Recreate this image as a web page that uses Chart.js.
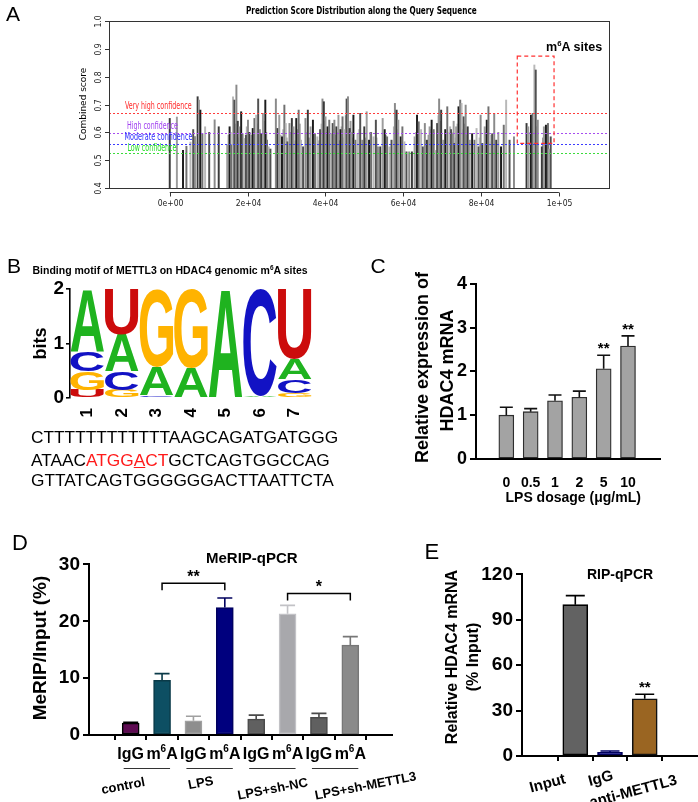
<!DOCTYPE html>
<html>
<head>
<meta charset="utf-8">
<script src="https://cdn.jsdelivr.net/npm/chart.js@4.4.0/dist/chart.umd.min.js"></script>
<style>
  body { margin: 0; background: #fff; }
  #page { position: relative; width: 698px; height: 802px; overflow: hidden; font-family: 'Liberation Sans', Arial, sans-serif; }
  #page canvas { position: absolute; }
  .t { position: absolute; white-space: nowrap; line-height: 1; }
  .t sup { font-size: 62%; line-height: 0; }
</style>
</head>
<body>
<div id="page">
  <canvas id="chartA" width="698" height="215" style="left:0px;top:0px"></canvas>
  <canvas id="chartB" width="330" height="145" style="left:0px;top:275px"></canvas>
  <canvas id="chartC" width="368" height="240" style="left:330px;top:270px"></canvas>
  <canvas id="chartD" width="460" height="252" style="left:0px;top:550px"></canvas>
  <canvas id="chartE" width="238" height="242" style="left:460px;top:560px"></canvas>
</div>
<script>
// ---------- data ----------
// A: predicted m6A sites along HDAC4 (position in nt, combined score)
var sitePositions = [0,1835,3409,4283,5331,6031,6468,7167,7516,7866,8390,9090,10138,11537,12586,14771,15382,15819,16256,16606,17130,17480,17917,18354,18704,19141,19578,20102,20452,20889,21326,21763,22200,22724,23161,23511,23948,24559,24996,25433,25870,27269,27706,28143,28842,29454,29803,30240,30765,31377,31814,32513,33125,33736,34261,34873,35484,36184,36795,37320,37932,38631,39243,39592,40029,40554,40991,41428,41865,42302,42826,43350,43875,44399,44924,45448,45798,46235,46672,47196,47720,48245,48944,49468,49993,50605,51216,51741,52353,52964,53489,54101,54712,55237,55849,56460,56985,57859,58296,58733,59345,59782,60306,60830,61530,62229,62928,63540,63977,64589,65026,65550,66074,66774,67298,67822,68347,68696,69221,69745,70270,70794,71318,71843,72280,72717,73154,73591,74203,74640,74989,75514,76038,76562,77087,77699,78310,78835,79359,79884,80321,80932,81457,81894,82331,82855,83380,83904,84428,85128,85827,86439,87313,88449,91683,92120,92819,93256,93693,94042,94567,95616,96140,96664,97189,97538,97888];
var siteScores = [0.65,0.655,0.535,0.55,0.565,0.61,0.585,0.728,0.716,0.68,0.595,0.62,0.60,0.645,0.62,0.555,0.62,0.555,0.728,0.716,0.77,0.64,0.62,0.674,0.595,0.578,0.59,0.644,0.60,0.59,0.614,0.65,0.662,0.72,0.61,0.595,0.668,0.716,0.572,0.548,0.54,0.72,0.614,0.662,0.584,0.698,0.632,0.566,0.632,0.65,0.62,0.65,0.68,0.572,0.548,0.65,0.68,0.62,0.644,0.595,0.584,0.61,0.72,0.71,0.656,0.62,0.644,0.595,0.632,0.644,0.62,0.662,0.61,0.656,0.61,0.72,0.728,0.614,0.60,0.662,0.572,0.595,0.668,0.572,0.62,0.674,0.572,0.60,0.584,0.644,0.548,0.548,0.65,0.61,0.584,0.548,0.572,0.704,0.68,0.644,0.584,0.62,0.566,0.53,0.53,0.53,0.584,0.662,0.638,0.61,0.548,0.632,0.572,0.62,0.644,0.61,0.535,0.632,0.72,0.68,0.572,0.61,0.692,0.60,0.61,0.595,0.56,0.62,0.692,0.716,0.704,0.656,0.698,0.62,0.572,0.595,0.572,0.614,0.548,0.662,0.56,0.62,0.644,0.692,0.566,0.595,0.668,0.572,0.60,0.548,0.626,0.716,0.572,0.584,0.632,0.62,0.662,0.668,0.842,0.824,0.644,0.548,0.62,0.626,0.632,0.54,0.584];
// lighter, lower-scoring sites drawn behind the main ones
var faintPositions = [15100,16000,16900,17700,18100,19350,19800,20300,21100,21550,22450,22950,23750,24250,24800,28500,29100,30000,31000,32100,32800,33450,35150,35800,38300,39000,39800,40300,41200,42050,42550,43100,43600,44150,44650,45250,45600,46000,46450,46900,48600,50300,51500,53200,55500,57600,58050,58500,63300,63750,66500,67000,69000,69500,72050,72500,72950,73400,73900,74400,74800,75250,75800,76300,79600,81100,82600,92400,93000,93450,94300,95900,96400,96900];
var faintScores = [0.59,0.60,0.63,0.58,0.61,0.57,0.62,0.58,0.57,0.60,0.63,0.59,0.58,0.64,0.60,0.59,0.61,0.58,0.60,0.57,0.61,0.63,0.60,0.58,0.57,0.63,0.64,0.60,0.58,0.61,0.59,0.60,0.57,0.62,0.58,0.66,0.70,0.60,0.64,0.58,0.61,0.58,0.60,0.58,0.59,0.62,0.66,0.61,0.60,0.62,0.59,0.61,0.66,0.64,0.62,0.60,0.64,0.58,0.63,0.68,0.66,0.61,0.63,0.59,0.58,0.60,0.59,0.60,0.63,0.65,0.62,0.58,0.59,0.60];
var scoreTicks = [0.4, 0.5, 0.6, 0.7, 0.8, 0.9, 1.0];
var positionTicks = [0, 20000, 40000, 60000, 80000, 100000];
var positionLabels = ['0e+00', '2e+04', '4e+04', '6e+04', '8e+04', '1e+05'];
var confidenceLevels = [0.670, 0.599, 0.557, 0.527];
var confidenceNames = ['Very high confidence', 'High confidence', 'Moderate confidence', 'Low confidence'];
var m6aWindow = [89300, 98750, 0.56, 0.874];

// B: motif logo, letters bottom -> top with height in bits
var logoPositions = ['1', '2', '3', '4', '5', '6', '7'];
var logoStacks = [
  [['U', 0.15], ['G', 0.34], ['C', 0.36], ['A', 1.15]],
  [['G', 0.15], ['C', 0.34], ['A', 0.68], ['U', 0.83]],
  [['U', 0.02], ['C', 0.03], ['A', 0.52], ['G', 1.42]],
  [['A', 0.55], ['G', 1.45]],
  [['A', 2.0]],
  [['A', 0.03], ['C', 1.95]],
  [['G', 0.09], ['C', 0.25], ['A', 0.37], ['U', 1.29]]
];

// C: LPS dose response
var dosageLabels = ['0', '0.5', '1', '2', '5', '10'];
var dosageValues = [1.0, 1.08, 1.33, 1.41, 2.06, 2.58];
var dosageErrors = [0.18, 0.07, 0.13, 0.14, 0.31, 0.23];
var dosageStars = ['', '', '', '', '**', '**'];

// D: MeRIP-qPCR
var meripLabels = ['IgG', 'm6A', 'IgG', 'm6A', 'IgG', 'm6A', 'IgG', 'm6A'];
var meripGroups = ['control', 'LPS', 'LPS+sh-NC', 'LPS+sh-METTL3'];
var meripValues = [2.1, 9.6, 2.5, 22.4, 2.8, 21.3, 3.1, 15.8];
var meripErrors = [0.15, 1.2, 0.8, 1.7, 0.7, 1.5, 0.7, 1.5];
var meripBrackets = [
  { from: 1, to: 3, value: 26.7, label: '**' },
  { from: 5, to: 7, value: 24.9, label: '*' }
];

// E: RIP-qPCR
var ripLabels = ['Input', 'IgG', 'anti-METTL3'];
var ripValues = [100, 2.5, 37.8];
var ripErrors = [6, 0.8, 3];
var ripStars = ['', '', '**'];

// ---------- helpers ----------
Chart.defaults.font.family = "'Liberation Sans', Arial, sans-serif";
Chart.defaults.color = '#000';
var page = document.getElementById('page');
var NARROW = "'Liberation Sans Narrow', 'DejaVu Sans Condensed', sans-serif";

function addText(html, x, y, font, opts) {
  opts = opts || {};
  var el = document.createElement('div');
  el.className = 't';
  el.style.font = font;
  el.style.color = opts.color || '#000';
  el.innerHTML = html;
  page.appendChild(el);
  var w = el.offsetWidth, h = el.offsetHeight;
  var sx = opts.width ? opts.width / w : 1;
  if (opts.align === 'left') {
    el.style.left = x + 'px';
    el.style.transformOrigin = '0 50%';
  } else {
    el.style.left = (x - w / 2) + 'px';
  }
  el.style.top = (y - h / 2) + 'px';
  el.style.transform = 'rotate(' + (opts.rot || 0) + 'deg) scaleX(' + sx + ')';
}

var errorBars = {
  id: 'errorBars',
  afterDatasetsDraw: function (chart) {
    var ctx = chart.ctx, ys = chart.scales.y;
    chart.data.datasets.forEach(function (ds, d) {
      if (!ds.errors) return;
      chart.getDatasetMeta(d).data.forEach(function (bar, i) {
        var top = ys.getPixelForValue(ds.data[i].y + ds.errors[i]);
        ctx.save();
        ctx.strokeStyle = ds.errorColor[i];
        ctx.lineWidth = 1.6;
        ctx.beginPath();
        ctx.moveTo(bar.x, bar.y);
        ctx.lineTo(bar.x, top);
        ctx.moveTo(bar.x - ds.capWidth / 2, top);
        ctx.lineTo(bar.x + ds.capWidth / 2, top);
        ctx.stroke();
        if (ds.stars && ds.stars[i]) {
          ctx.fillStyle = '#000';
          ctx.font = 'bold 15px ' + Chart.defaults.font.family;
          ctx.textAlign = 'center';
          ctx.textBaseline = 'alphabetic';
          ctx.fillText(ds.stars[i], bar.x, top - 2);
        }
        ctx.restore();
      });
    });
  }
};

function fixedBox(width, height) {
  return function (s) {
    if (width != null) s.width = width;
    if (height != null) s.height = height;
  };
}

function setTicks(values) {
  return function (s) { s.ticks = values.map(function (v) { return { value: v }; }); };
}

function valueAxis(min, max, step, size, width) {
  return {
    min: min, max: max,
    afterFit: fixedBox(width, null),
    ticks: { stepSize: step, font: { size: size, weight: 'bold' }, color: '#000', padding: 3 },
    grid: { display: true, drawOnChartArea: false, drawTicks: true, tickLength: 6, color: '#000', lineWidth: 2 },
    border: { display: true, color: '#000', width: 2 }
  };
}

// ---------- A ----------
var rPlot = {
  id: 'rPlot',
  afterDatasetsDraw: function (chart) {
    var ctx = chart.ctx, a = chart.chartArea, xs = chart.scales.x, ys = chart.scales.y;
    var lineColors = ['#ff3b3b', '#a64cf0', '#3b3bff', '#3bdc3b'];
    ctx.save();
    ctx.lineWidth = 1;
    ctx.setLineDash([2, 2]);
    confidenceLevels.forEach(function (v, i) {
      var py = Math.round(ys.getPixelForValue(v)) + 0.5;
      ctx.strokeStyle = lineColors[i];
      ctx.beginPath(); ctx.moveTo(a.left, py); ctx.lineTo(a.right, py); ctx.stroke();
    });
    ctx.setLineDash([4, 3]);
    ctx.strokeStyle = '#ff3030';
    ctx.lineWidth = 1.2;
    var bx0 = xs.getPixelForValue(m6aWindow[0]), bx1 = xs.getPixelForValue(m6aWindow[1]);
    var by0 = ys.getPixelForValue(m6aWindow[3]), by1 = ys.getPixelForValue(m6aWindow[2]);
    ctx.strokeRect(bx0, by0, bx1 - bx0, by1 - by0);
    ctx.setLineDash([]);

    ctx.strokeStyle = '#333';
    ctx.lineWidth = 1;
    ctx.strokeRect(a.left + 0.5, a.top + 0.5, a.right - a.left - 1, a.bottom - a.top);
    ctx.fillStyle = '#222';
    ctx.font = '8.5px ' + NARROW;
    ctx.textAlign = 'center';
    ctx.textBaseline = 'middle';
    scoreTicks.forEach(function (v) {
      var py = Math.round(ys.getPixelForValue(v)) + 0.5;
      ctx.beginPath(); ctx.moveTo(a.left, py); ctx.lineTo(a.left - 4, py); ctx.stroke();
      ctx.save();
      ctx.translate(a.left - 10, py);
      ctx.rotate(-Math.PI / 2);
      ctx.fillText(v.toFixed(1), 0, 0);
      ctx.restore();
    });
    var ay = a.bottom + 4.5;
    var x0 = xs.getPixelForValue(positionTicks[0]);
    var x1 = xs.getPixelForValue(positionTicks[positionTicks.length - 1]);
    ctx.beginPath(); ctx.moveTo(x0, ay); ctx.lineTo(x1, ay); ctx.stroke();
    positionTicks.forEach(function (v, i) {
      var px = Math.round(xs.getPixelForValue(v)) + 0.5;
      ctx.beginPath(); ctx.moveTo(px, ay); ctx.lineTo(px, ay + 4); ctx.stroke();
      ctx.fillText(positionLabels[i], px, ay + 11);
    });
    ctx.restore();
  }
};

var siteShades = ['#3a3a3a', '#9c9c9c', '#1c1c1c', '#707070', '#b8b8b8', '#505050', '#8a8a8a'];
var faintShades = ['#b0b0b0', '#c8c8c8', '#9a9a9a'];
new Chart(document.getElementById('chartA'), {
  type: 'bar',
  data: {
    datasets: [{
      data: sitePositions.map(function (p, i) { return { x: p, y: siteScores[i] }; }),
      base: 0.4,
      barThickness: 1.3,
      grouped: false,
      order: 1,
      backgroundColor: function (c) { return siteShades[c.dataIndex % siteShades.length]; }
    }, {
      data: faintPositions.map(function (p, i) { return { x: p, y: faintScores[i] }; }),
      base: 0.4,
      barThickness: 1.3,
      grouped: false,
      order: 2,
      backgroundColor: function (c) { return faintShades[c.dataIndex % faintShades.length]; }
    }]
  },
  options: {
    responsive: false, animation: false, events: [],
    layout: { padding: { left: 109, right: 88, top: 21, bottom: 27 } },
    plugins: { legend: { display: false }, tooltip: { enabled: false } },
    scales: {
      x: { type: 'linear', min: -4880, max: 102400, display: false },
      y: { min: 0.4, max: 1.0, display: false }
    }
  },
  plugins: [rPlot]
});

// ---------- B ----------
var logoColors = { A: '#1fb31f', C: '#1212c4', G: '#ffb300', U: '#cc0c0c' };
function drawLetter(ctx, letter, x, y, w, h) {
  ctx.save();
  ctx.font = "bold 100px 'Liberation Sans', Arial, sans-serif";
  var m = ctx.measureText(letter);
  var gw = m.actualBoundingBoxLeft + m.actualBoundingBoxRight;
  var gh = m.actualBoundingBoxAscent + m.actualBoundingBoxDescent;
  ctx.translate(x, y);
  ctx.scale(w / gw, h / gh);
  ctx.fillStyle = logoColors[letter];
  ctx.textAlign = 'left';
  ctx.textBaseline = 'alphabetic';
  ctx.fillText(letter, m.actualBoundingBoxLeft, m.actualBoundingBoxAscent);
  ctx.restore();
}
var logoLetters = {
  id: 'logoLetters',
  afterDatasetsDraw: function (chart) {
    chart.data.datasets.forEach(function (ds, d) {
      chart.getDatasetMeta(d).data.forEach(function (bar, i) {
        var s = logoStacks[i][d];
        if (!s) return;
        var p = bar.getProps(['x', 'y', 'base', 'width'], true);
        var h = p.base - p.y;
        if (h < 0.6) return;
        drawLetter(chart.ctx, s[0], p.x - p.width / 2, p.y, p.width, h);
      });
    });
  }
};
var logoDatasets = [0, 1, 2, 3].map(function (r) {
  return {
    data: logoStacks.map(function (s) { return s[r] ? s[r][1] : 0; }),
    backgroundColor: 'rgba(0,0,0,0)',
    barPercentage: 1, categoryPercentage: 0.97
  };
});
new Chart(document.getElementById('chartB'), {
  type: 'bar',
  data: { labels: logoPositions, datasets: logoDatasets },
  options: {
    responsive: false, animation: false, events: [],
    layout: { padding: { left: 0, right: 18, top: 14, bottom: 0 } },
    plugins: { legend: { display: false }, tooltip: { enabled: false } },
    scales: {
      x: {
        stacked: true, afterFit: fixedBox(null, 22),
        grid: { display: false }, border: { display: false },
        ticks: { minRotation: 90, maxRotation: 90, font: { size: 17, weight: 'bold' }, color: '#000', padding: 2 }
      },
      y: {
        stacked: true, min: 0, max: 2, afterFit: fixedBox(70, null),
        ticks: { stepSize: 1, font: { size: 19, weight: 'bold' }, color: '#000', padding: 2 },
        grid: { display: true, drawOnChartArea: false, tickLength: 4, color: '#000', lineWidth: 1.6 },
        border: { display: true, color: '#000', width: 1.6 }
      }
    }
  },
  plugins: [logoLetters]
});

// ---------- C ----------
new Chart(document.getElementById('chartC'), {
  type: 'bar',
  data: {
    datasets: [{
      data: dosageValues.map(function (v, i) { return { x: i, y: v }; }),
      errors: dosageErrors, stars: dosageStars,
      errorColor: dosageValues.map(function () { return '#111'; }),
      capWidth: 13,
      barThickness: 15,
      backgroundColor: '#a3a3a3', borderColor: '#2e2e2e', borderWidth: 1.3, borderSkipped: false
    }]
  },
  options: {
    responsive: false, animation: false, events: [],
    layout: { padding: { left: 0, right: 38, top: 13, bottom: 0 } },
    plugins: { legend: { display: false }, tooltip: { enabled: false } },
    scales: {
      x: {
        type: 'linear', min: -0.616, max: 5.685,
        afterBuildTicks: setTicks([0, 1, 2, 3, 4, 5]),
        afterFit: fixedBox(null, 51),
        ticks: { callback: function (v) { return dosageLabels[v]; }, font: { size: 14, weight: 'bold' }, color: '#000', padding: 8, maxRotation: 0 },
        grid: { display: false },
        border: { display: true, color: '#000', width: 2 }
      },
      y: valueAxis(0, 4, 1, 18, 146)
    }
  },
  plugins: [errorBars]
});

// ---------- D ----------
var meripColors = ['#5e0b52', '#0d4f63', '#8e8e8e', '#00007e', '#606060', '#a8a8ac', '#606060', '#8a8a8a'];
var meripEdges = ['#000000', '#0a3a48', '#a0a0a0', '#00005e', '#4a4a4a', '#c2c2c6', '#4a4a4a', '#777777'];
var meripText = {
  id: 'meripText',
  afterDatasetsDraw: function (chart) {
    var ctx = chart.ctx, xs = chart.scales.x, ys = chart.scales.y;
    var bars = chart.getDatasetMeta(0).data;
    var fam = Chart.defaults.font.family;
    ctx.save();
    ctx.fillStyle = '#000';
    ctx.textBaseline = 'middle';
    var ly = xs.top + 20;
    meripLabels.forEach(function (lab, i) {
      var cx = bars[i].x;
      if (lab === 'm6A') {
        ctx.font = 'bold 16px ' + fam;
        var wm = ctx.measureText('m').width, wa = ctx.measureText('A').width;
        ctx.font = 'bold 10px ' + fam;
        var w6 = ctx.measureText('6').width;
        var sx = cx - (wm + w6 + wa) / 2;
        ctx.textAlign = 'left';
        ctx.font = 'bold 16px ' + fam;
        ctx.fillText('m', sx, ly);
        ctx.fillText('A', sx + wm + w6, ly);
        ctx.font = 'bold 10px ' + fam;
        ctx.fillText('6', sx + wm, ly - 6);
      } else {
        ctx.font = 'bold 16px ' + fam;
        ctx.textAlign = 'center';
        ctx.fillText(lab, cx, ly);
      }
    });
    // group underlines
    ctx.strokeStyle = '#333';
    ctx.lineWidth = 1;
    meripGroups.forEach(function (g, k) {
      var uy = xs.top + 33.5;
      ctx.beginPath();
      ctx.moveTo(bars[2 * k].x - 7, uy);
      ctx.lineTo(bars[2 * k + 1].x + 8, uy);
      ctx.stroke();
    });
    // brackets
    ctx.strokeStyle = '#000';
    ctx.lineWidth = 1.5;
    ctx.font = 'bold 16px ' + fam;
    ctx.textAlign = 'center';
    ctx.textBaseline = 'alphabetic';
    meripBrackets.forEach(function (b) {
      var x0 = bars[b.from].x, x1 = bars[b.to].x;
      var py = ys.getPixelForValue(b.value);
      ctx.beginPath();
      ctx.moveTo(x0, py + 7); ctx.lineTo(x0, py); ctx.lineTo(x1, py); ctx.lineTo(x1, py + 7);
      ctx.stroke();
      ctx.fillText(b.label, (x0 + x1) / 2, py - 1);
    });
    ctx.restore();
  }
};
new Chart(document.getElementById('chartD'), {
  type: 'bar',
  data: {
    datasets: [{
      data: meripValues.map(function (v, i) { return { x: i, y: v }; }),
      errors: meripErrors, errorColor: meripEdges.map(function (c, i) { return i === 0 ? '#000' : c; }),
      capWidth: 15,
      barThickness: 17,
      backgroundColor: meripColors, borderColor: meripEdges, borderWidth: 1.5, borderSkipped: false
    }]
  },
  options: {
    responsive: false, animation: false, events: [],
    layout: { padding: { left: 0, right: 68, top: 13, bottom: 0 } },
    plugins: { legend: { display: false }, tooltip: { enabled: false } },
    scales: {
      x: {
        type: 'linear', min: -0.725, max: 7.725,
        afterBuildTicks: setTicks([0, 1, 2, 3, 4, 5, 6, 7]),
        afterFit: fixedBox(null, 67),
        ticks: { callback: function () { return ''; } },
        grid: { display: true, drawOnChartArea: false, drawTicks: true, tickLength: 5, color: '#000', lineWidth: 2 },
        border: { display: true, color: '#000', width: 2 }
      },
      y: valueAxis(0, 30, 10, 19, 89)
    }
  },
  plugins: [errorBars, meripText]
});

// ---------- E ----------
new Chart(document.getElementById('chartE'), {
  type: 'bar',
  data: {
    datasets: [{
      data: ripValues.map(function (v, i) { return { x: i, y: v }; }),
      errors: ripErrors, stars: ripStars,
      errorColor: ['#000', '#00006a', '#000'],
      capWidth: 19,
      barThickness: 25,
      backgroundColor: ['#626262', '#00007e', '#9a6522'], borderColor: ['#000', '#00005a', '#111'], borderWidth: 1.6, borderSkipped: false
    }]
  },
  options: {
    responsive: false, animation: false, events: [],
    layout: { padding: { left: 0, right: 0, top: 14, bottom: 0 } },
    plugins: { legend: { display: false }, tooltip: { enabled: false } },
    scales: {
      x: {
        type: 'linear', min: -0.69, max: 2.69,
        afterBuildTicks: setTicks([0, 1, 2]),
        afterFit: fixedBox(null, 46),
        ticks: { callback: function () { return ''; } },
        grid: { display: true, drawOnChartArea: false, drawTicks: true, tickLength: 5, color: '#000', lineWidth: 2 },
        border: { display: true, color: '#000', width: 2 }
      },
      y: valueAxis(0, 120, 30, 19, 62)
    }
  },
  plugins: [errorBars]
});

// ---------- text ----------
var B = "'Liberation Sans', Arial, sans-serif";
addText('A', 13, 14, '21px ' + B);
addText('Prediction Score Distribution along the Query Sequence', 361, 10, 'bold 10px ' + NARROW, { width: 231 });
addText('Combined score', 82, 104, '9px ' + NARROW, { rot: -90, width: 72 });
var confColors = ['#ff2a2a', '#a040f0', '#2a2aff', '#22dd22'];
var confPos = [[158.5, 105, 67], [152.5, 125, 51], [158, 136, 68], [151.5, 147, 49]];
confidenceNames.forEach(function (n, i) {
  addText(n, confPos[i][0], confPos[i][1], '10px ' + NARROW, { color: confColors[i], width: confPos[i][2] });
});
addText('m<sup>6</sup>A sites', 574, 46, 'bold 13px ' + B, { width: 56 });

addText('B', 14, 266, '21px ' + B);
addText('Binding motif of METTL3 on HDAC4 genomic m<sup>6</sup>A sites', 170, 270, 'bold 10.5px ' + B);
addText('bits', 40, 343, 'bold 18px ' + B, { rot: -90 });
addText('CTTTTTTTTTTTTAAGCAGATGATGGG', 31, 437, '17.3px ' + B, { align: 'left' });
addText('ATAAC<span style="color:#ff1a1a">ATGG<u>A</u>CT</span>GCTCAGTGGCCAG', 31, 460, '17.3px ' + B, { align: 'left' });
addText('GTTATCAGTGGGGGGACTTAATTCTA', 31, 480, '17.3px ' + B, { align: 'left' });

addText('C', 378, 266, '21px ' + B);
addText('Relative expression of', 422, 367, 'bold 18px ' + B, { rot: -90 });
addText('HDAC4 mRNA', 447, 370, 'bold 18px ' + B, { rot: -90 });
addText('LPS dosage (μg/mL)', 573, 497, 'bold 14px ' + B);

addText('D', 20, 543, '22px ' + B);
addText('MeRIP-qPCR', 252, 557, 'bold 15px ' + B);
addText('MeRIP/Input (%)', 40, 648, 'bold 19px ' + B, { rot: -90 });
var groupPos = [[123, 785], [200, 782], [272, 788], [365, 785]];
meripGroups.forEach(function (g, i) {
  addText(g, groupPos[i][0], groupPos[i][1], 'bold 13px ' + B, { rot: -11 });
});

addText('E', 432, 552, '22px ' + B);
addText('RIP-qPCR', 620, 574, 'bold 14px ' + B);
addText('Relative HDAC4 mRNA', 452, 657, 'bold 16px ' + B, { rot: -90 });
addText('(% Input)', 473, 657, 'bold 16px ' + B, { rot: -90 });
var ripPos = [[547, 782], [600, 777], [633, 790]];
ripLabels.forEach(function (l, i) {
  addText(l, ripPos[i][0], ripPos[i][1], 'bold 15px ' + B, { rot: -15 });
});
</script>
</body>
</html>
